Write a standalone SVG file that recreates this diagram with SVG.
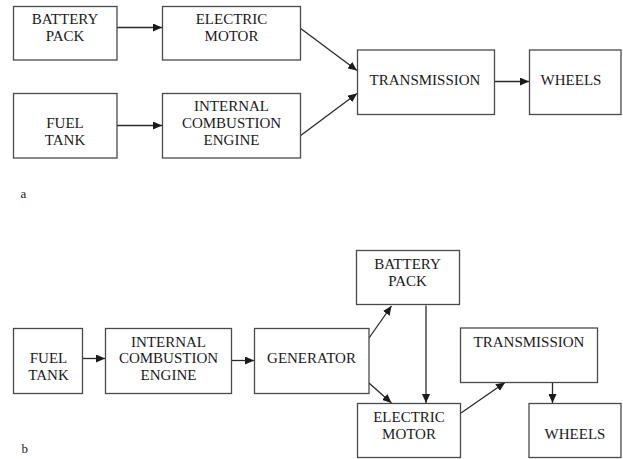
<svg xmlns="http://www.w3.org/2000/svg" width="623" height="459" viewBox="0 0 623 459">
<defs>
<marker id="ah" markerWidth="9" markerHeight="8" refX="9" refY="4" orient="auto" markerUnits="userSpaceOnUse">
<path d="M0,0 L9,4 L0,8 Z" fill="#1a1a1a"/>
</marker>
<style>
.box{fill:#fff;stroke:#4a4a4a;stroke-width:1.3}
.t{font-family:"Liberation Serif","Times New Roman",serif;font-size:15px;fill:#1a1a1a;text-anchor:middle}
.lbl{font-family:"Liberation Serif","Times New Roman",serif;font-size:13px;fill:#1a1a1a}
.c{stroke:#2a2a2a;stroke-width:1.3;fill:none;marker-end:url(#ah)}
</style>
</defs>
<rect width="623" height="459" fill="#fff"/>
<g id="connectors">
<line class="c" x1="117" y1="27.5" x2="162" y2="27.5"/>
<line class="c" x1="117" y1="125.5" x2="162" y2="125.5"/>
<line class="c" x1="300" y1="28" x2="357" y2="70.5"/>
<line class="c" x1="300" y1="136" x2="357" y2="93.5"/>
<line class="c" x1="495" y1="81.5" x2="529" y2="81.5"/>
<line class="c" x1="83" y1="358.5" x2="105" y2="358.5"/>
<line class="c" x1="232" y1="360.5" x2="254" y2="360.5"/>
<line class="c" x1="369" y1="338" x2="391.5" y2="306"/>
<line class="c" x1="369" y1="383" x2="391.5" y2="403"/>
<line class="c" x1="426" y1="305.5" x2="426" y2="403"/>
<line class="c" x1="461" y1="413" x2="505" y2="382.5"/>
<line class="c" x1="552.5" y1="382.5" x2="552.5" y2="403"/>
</g>
<g id="a-battery"><rect class="box" x="13.5" y="6.5" width="103.5" height="53.5"/><text class="t" x="65" y="24">BATTERY</text><text class="t" x="65" y="41">PACK</text></g>
<g id="a-motor"><rect class="box" x="162.5" y="6.5" width="138" height="53.5"/><text class="t" x="231.5" y="24">ELECTRIC</text><text class="t" x="231.5" y="41">MOTOR</text></g>
<g id="a-fuel"><rect class="box" x="13.5" y="93.5" width="103.5" height="64.5"/><text class="t" x="65" y="128">FUEL</text><text class="t" x="65" y="144.5">TANK</text></g>
<g id="a-ice"><rect class="box" x="162.5" y="93.5" width="138" height="64.5"/><text class="t" x="231.5" y="111">INTERNAL</text><text class="t" x="231.5" y="128">COMBUSTION</text><text class="t" x="231.5" y="144.5">ENGINE</text></g>
<g id="a-trans"><rect class="box" x="357.5" y="50" width="137" height="64.5"/><text class="t" x="425" y="84.5">TRANSMISSION</text></g>
<g id="a-wheels"><rect class="box" x="529.5" y="50" width="91.5" height="64.5"/><text class="t" x="571" y="84.5">WHEELS</text></g>
<text class="lbl" x="20.5" y="198">a</text>
<g id="b-fuel"><rect class="box" x="13.5" y="328.5" width="69" height="65"/><text class="t" x="48.5" y="363">FUEL</text><text class="t" x="48.5" y="379.5">TANK</text></g>
<g id="b-ice"><rect class="box" x="105.5" y="328.5" width="126" height="65"/><text class="t" x="168.5" y="346.5">INTERNAL</text><text class="t" x="168.5" y="363">COMBUSTION</text><text class="t" x="168.5" y="379.5">ENGINE</text></g>
<g id="b-gen"><rect class="box" x="254.5" y="328.5" width="114.5" height="65"/><text class="t" x="311.5" y="363">GENERATOR</text></g>
<g id="b-battery"><rect class="box" x="356.5" y="250.5" width="103" height="54"/><text class="t" x="407.5" y="268.5">BATTERY</text><text class="t" x="407.5" y="285.5">PACK</text></g>
<g id="b-motor"><rect class="box" x="357.5" y="403.5" width="103" height="54"/><text class="t" x="409" y="422">ELECTRIC</text><text class="t" x="409" y="438.5">MOTOR</text></g>
<g id="b-trans"><rect class="box" x="460.5" y="328" width="137" height="54.5"/><text class="t" x="529" y="347">TRANSMISSION</text></g>
<g id="b-wheels"><rect class="box" x="529" y="403.5" width="92" height="54"/><text class="t" x="575" y="438.5">WHEELS</text></g>
<text class="lbl" x="21.5" y="453">b</text>
</svg>
